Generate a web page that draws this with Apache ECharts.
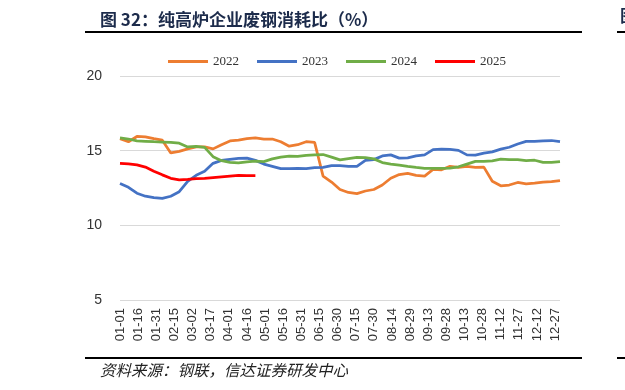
<!DOCTYPE html>
<html>
<head>
<meta charset="utf-8">
<script src="https://cdn.jsdelivr.net/npm/echarts@6/dist/echarts.min.js"></script>
<style>
html,body{margin:0;padding:0;background:#fff;}
#c{width:625px;height:390px;}
</style>
</head>
<body>
<div id="c"></div>
<script>
// x-axis categories: every day of the year (MM-DD), labels shown every 15 days
const monthDays = [31,28,31,30,31,30,31,31,30,31,30,31];
const categories = [];
monthDays.forEach((n, m) => {
  for (let d = 1; d <= n; d++) {
    categories.push(String(m + 1).padStart(2, '0') + '-' + String(d).padStart(2, '0'));
  }
});
// weekly observations (one value per week starting 01-01)
const seriesNames = ['2022', '2023', '2024', '2025'];
const v2022 = [15.8,15.6,15.95,15.92,15.8,15.7,14.85,14.95,15.12,15.25,15.25,15.12,15.4,15.65,15.7,15.8,15.85,15.78,15.78,15.6,15.3,15.4,15.6,15.55,13.3,12.9,12.4,12.2,12.12,12.3,12.4,12.7,13.15,13.4,13.48,13.35,13.3,13.75,13.72,13.95,13.88,13.95,13.88,13.9,12.95,12.65,12.7,12.87,12.78,12.83,12.9,12.92,13.0];
const v2023 = [12.8,12.55,12.15,11.95,11.85,11.8,11.95,12.25,12.95,13.35,13.62,14.15,14.35,14.42,14.48,14.5,14.35,14.1,13.95,13.8,13.8,13.82,13.8,13.87,13.88,14.0,14.0,13.95,13.95,14.35,14.4,14.65,14.72,14.5,14.52,14.65,14.72,15.07,15.1,15.08,15.02,14.72,14.7,14.84,14.92,15.1,15.23,15.45,15.62,15.63,15.66,15.68,15.6];
const v2024 = [15.85,15.78,15.66,15.63,15.6,15.58,15.55,15.5,15.25,15.28,15.22,14.6,14.33,14.22,14.18,14.25,14.3,14.27,14.45,14.57,14.64,14.62,14.68,14.72,14.74,14.57,14.38,14.47,14.55,14.53,14.45,14.2,14.1,14.03,13.95,13.88,13.82,13.81,13.81,13.83,13.92,14.1,14.28,14.28,14.32,14.43,14.4,14.4,14.34,14.36,14.22,14.21,14.26];
const v2025 = [14.15,14.12,14.05,13.9,13.62,13.38,13.15,13.05,13.08,13.12,13.15,13.2,13.25,13.3,13.35,13.33,13.33];
const yTicks = [5, 10, 15, 20];
const colors = ['#ED7D31', '#4472C4', '#70AD47', '#FF0000'];

const allValues = [v2022, v2023, v2024, v2025];
const weekly = vals => vals.map((v, i) => [categories[i * 7], v]);

const chart = echarts.init(document.getElementById('c'), null, {renderer: 'canvas'});
chart.setOption({
  animation: false,
  backgroundColor: '#fff',
  color: colors,
  title: {
    text: '图 32：纯高炉企业废钢消耗比（%）',
    left: 95, top: 6,
    textStyle: {fontFamily: 'Noto Sans CJK SC', fontSize: 17, fontWeight: 'bold', color: '#1c2b4b'}
  },
  graphic: [
    {type: 'line', shape: {x1: 85, y1: 32, x2: 582, y2: 32}, style: {stroke: '#000', lineWidth: 2}},
    {type: 'line', shape: {x1: 617, y1: 32, x2: 625, y2: 32}, style: {stroke: '#000', lineWidth: 2}},
    {type: 'text', left: 620, top: 7, style: {text: '图', font: 'bold 17px "Noto Sans CJK SC"', fill: '#1c2b4b'}},
    {type: 'line', shape: {x1: 85, y1: 358, x2: 582, y2: 358}, style: {stroke: '#000', lineWidth: 2}},
    {type: 'line', shape: {x1: 617, y1: 358, x2: 625, y2: 358}, style: {stroke: '#000', lineWidth: 2}},
    {type: 'text', left: 100, top: 362, style: {text: '资料来源：钢联，信达证券研发中心', font: 'italic 15.5px "Noto Sans CJK SC"', fill: '#222'}}
  ],
  legend: {
    left: 163, top: 50,
    icon: 'rect', itemWidth: 40, itemHeight: 3, itemGap: 18,
    textStyle: {fontFamily: 'Liberation Serif', fontSize: 13, color: '#333'},
    data: seriesNames
  },
  grid: {left: 120, right: 65, top: 76, bottom: 90, containLabel: false},
  xAxis: {
    type: 'category',
    data: categories,
    boundaryGap: false,
    axisLine: {show: false},
    axisTick: {show: false},
    axisLabel: {
      interval: 14, rotate: 90, margin: 8,
      fontFamily: 'Liberation Sans', fontSize: 13, color: '#333'
    },
    splitLine: {show: false}
  },
  yAxis: {
    type: 'value',
    min: yTicks[0], max: yTicks[yTicks.length - 1], interval: 5,
    axisLine: {show: false},
    axisTick: {show: false},
    axisLabel: {margin: 18, fontFamily: 'Liberation Sans', fontSize: 14, color: '#333'},
    splitLine: {lineStyle: {color: '#d9d9d9', width: 1}}
  },
  series: seriesNames.map((name, i) => ({
    name: name,
    type: 'line',
    data: weekly(allValues[i]),
    showSymbol: false,
    symbol: 'none',
    lineStyle: {width: 2.75, color: colors[i]},
    itemStyle: {color: colors[i]},
    z: i === 3 ? 5 : 2
  }))
});
</script>
</body>
</html>
